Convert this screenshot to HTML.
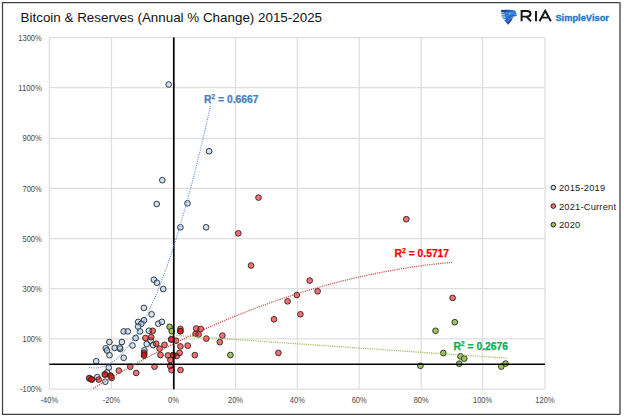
<!DOCTYPE html>
<html><head><meta charset="utf-8"><style>
html,body{margin:0;padding:0;background:#fff;}
body{width:624px;height:420px;overflow:hidden;position:relative;font-family:"Liberation Sans",sans-serif;}
svg{position:absolute;left:0;top:0;}
</style></head><body>
<svg width="624" height="420" viewBox="0 0 624 420">
<rect x="0" y="0" width="624" height="420" fill="#fff"/>
<line x1="620" y1="2" x2="620" y2="414.8" stroke="#757575" stroke-width="1.8"/>
<path d="M619.2,2.5 H2.5 V414.3 H620" fill="none" stroke="#404040" stroke-width="1.25"/>
<text x="20.6" y="22" font-size="13.4" fill="#111">Bitcoin &amp; Reserves (Annual % Change) 2015-2025</text>
<g stroke="#dedede" stroke-width="1.25">
<line x1="49.4" y1="37.5" x2="49.4" y2="389.2"/>
<line x1="111.5" y1="37.5" x2="111.5" y2="389.2"/>
<line x1="173.5" y1="37.5" x2="173.5" y2="389.2"/>
<line x1="235.5" y1="37.5" x2="235.5" y2="389.2"/>
<line x1="297.4" y1="37.5" x2="297.4" y2="389.2"/>
<line x1="359.2" y1="37.5" x2="359.2" y2="389.2"/>
<line x1="421.2" y1="37.5" x2="421.2" y2="389.2"/>
<line x1="482.6" y1="37.5" x2="482.6" y2="389.2"/>
<line x1="545.0" y1="37.5" x2="545.0" y2="389.2"/>
<line x1="49.5" y1="37.5" x2="545" y2="37.5"/>
<line x1="49.5" y1="87.6" x2="545" y2="87.6"/>
<line x1="49.5" y1="138.3" x2="545" y2="138.3"/>
<line x1="49.5" y1="188.4" x2="545" y2="188.4"/>
<line x1="49.5" y1="238.5" x2="545" y2="238.5"/>
<line x1="49.5" y1="288.7" x2="545" y2="288.7"/>
<line x1="49.5" y1="338.9" x2="545" y2="338.9"/>
<line x1="49.5" y1="389.1" x2="545" y2="389.1"/>
</g>
<g font-size="8.4" fill="#4a4a4a">
<text x="41.8" y="40.6" text-anchor="end" textLength="23.53" lengthAdjust="spacingAndGlyphs">1300%</text>
<text x="41.8" y="90.69999999999999" text-anchor="end" textLength="23.53" lengthAdjust="spacingAndGlyphs">1100%</text>
<text x="41.8" y="141.4" text-anchor="end" textLength="19.33" lengthAdjust="spacingAndGlyphs">900%</text>
<text x="41.8" y="191.5" text-anchor="end" textLength="19.33" lengthAdjust="spacingAndGlyphs">700%</text>
<text x="41.8" y="241.6" text-anchor="end" textLength="19.33" lengthAdjust="spacingAndGlyphs">500%</text>
<text x="41.8" y="291.8" text-anchor="end" textLength="19.33" lengthAdjust="spacingAndGlyphs">300%</text>
<text x="41.8" y="342.0" text-anchor="end" textLength="19.33" lengthAdjust="spacingAndGlyphs">100%</text>
<text x="41.8" y="392.20000000000005" text-anchor="end" textLength="21.85" lengthAdjust="spacingAndGlyphs">-100%</text>
<text x="49.4" y="403.2" text-anchor="middle" textLength="17.65" lengthAdjust="spacingAndGlyphs">-40%</text>
<text x="111.5" y="403.2" text-anchor="middle" textLength="17.65" lengthAdjust="spacingAndGlyphs">-20%</text>
<text x="173.5" y="403.2" text-anchor="middle" textLength="10.92" lengthAdjust="spacingAndGlyphs">0%</text>
<text x="235.5" y="403.2" text-anchor="middle" textLength="15.13" lengthAdjust="spacingAndGlyphs">20%</text>
<text x="297.4" y="403.2" text-anchor="middle" textLength="15.13" lengthAdjust="spacingAndGlyphs">40%</text>
<text x="359.2" y="403.2" text-anchor="middle" textLength="15.13" lengthAdjust="spacingAndGlyphs">60%</text>
<text x="421.2" y="403.2" text-anchor="middle" textLength="15.13" lengthAdjust="spacingAndGlyphs">80%</text>
<text x="482.6" y="403.2" text-anchor="middle" textLength="19.33" lengthAdjust="spacingAndGlyphs">100%</text>
<text x="545.0" y="403.2" text-anchor="middle" textLength="19.33" lengthAdjust="spacingAndGlyphs">120%</text>
</g>
<g stroke="#262626" stroke-width="0.9" fill="rgba(160,200,240,0.55)">
<circle cx="168.7" cy="84.5" r="2.85"/>
<circle cx="209.1" cy="151.2" r="2.85"/>
<circle cx="162.3" cy="180.2" r="2.85"/>
<circle cx="156.7" cy="204" r="2.85"/>
<circle cx="187.5" cy="203.3" r="2.85"/>
<circle cx="180.4" cy="227.3" r="2.85"/>
<circle cx="206.1" cy="227.3" r="2.85"/>
<circle cx="153.9" cy="279.8" r="2.85"/>
<circle cx="156.9" cy="282.7" r="2.85"/>
<circle cx="163.2" cy="289" r="2.85"/>
<circle cx="143.9" cy="307.9" r="2.85"/>
<circle cx="151.6" cy="314.3" r="2.85"/>
<circle cx="144" cy="320.3" r="2.85"/>
<circle cx="138.2" cy="321.9" r="2.85"/>
<circle cx="141.3" cy="323.8" r="2.85"/>
<circle cx="138.1" cy="326.6" r="2.85"/>
<circle cx="140" cy="331.4" r="2.85"/>
<circle cx="123.7" cy="331.4" r="2.85"/>
<circle cx="127.8" cy="331.4" r="2.85"/>
<circle cx="135.6" cy="338" r="2.85"/>
<circle cx="132.5" cy="345.5" r="2.85"/>
<circle cx="109.4" cy="342" r="2.85"/>
<circle cx="121.9" cy="342" r="2.85"/>
<circle cx="114.7" cy="347.9" r="2.85"/>
<circle cx="120.2" cy="349" r="2.85"/>
<circle cx="105.8" cy="348.3" r="2.85"/>
<circle cx="107" cy="350.5" r="2.85"/>
<circle cx="109.5" cy="355.2" r="2.85"/>
<circle cx="123.7" cy="357.8" r="2.85"/>
<circle cx="96.2" cy="361.2" r="2.85"/>
<circle cx="108.7" cy="367.6" r="2.85"/>
<circle cx="97.3" cy="377.1" r="2.85"/>
<circle cx="105.3" cy="381.7" r="2.85"/>
<circle cx="107" cy="372.5" r="2.85"/>
<circle cx="89.4" cy="378" r="2.85"/>
<circle cx="158.3" cy="323.7" r="2.85"/>
<circle cx="161.9" cy="321.9" r="2.85"/>
<circle cx="149" cy="330.7" r="2.85"/>
<circle cx="150.6" cy="340.5" r="2.85"/>
<circle cx="146.7" cy="344" r="2.85"/>
<circle cx="153.2" cy="345.1" r="2.85"/>
<circle cx="144.4" cy="350.3" r="2.85"/>
<circle cx="119.8" cy="347.6" r="2.85"/>
</g>
<g stroke="#262626" stroke-width="0.9" fill="rgba(245,0,0,0.57)">
<circle cx="258.5" cy="197.6" r="2.85"/>
<circle cx="238.3" cy="233.3" r="2.85"/>
<circle cx="251" cy="265.5" r="2.85"/>
<circle cx="406.3" cy="219.2" r="2.85"/>
<circle cx="309.7" cy="280.6" r="2.85"/>
<circle cx="317.6" cy="291.3" r="2.85"/>
<circle cx="296.8" cy="295" r="2.85"/>
<circle cx="287.6" cy="301.3" r="2.85"/>
<circle cx="300.4" cy="314.3" r="2.85"/>
<circle cx="274" cy="319.3" r="2.85"/>
<circle cx="278.4" cy="352.9" r="2.85"/>
<circle cx="452.6" cy="297.9" r="2.85"/>
<circle cx="152.7" cy="330.8" r="2.85"/>
<circle cx="145.4" cy="338" r="2.85"/>
<circle cx="151.2" cy="337.2" r="2.85"/>
<circle cx="156.2" cy="343.7" r="2.85"/>
<circle cx="159.6" cy="348.7" r="2.85"/>
<circle cx="164.5" cy="344.8" r="2.85"/>
<circle cx="144.2" cy="352.7" r="2.85"/>
<circle cx="144" cy="355.6" r="2.85"/>
<circle cx="160.5" cy="355" r="2.85"/>
<circle cx="167.9" cy="355.4" r="2.85"/>
<circle cx="173.2" cy="355" r="2.85"/>
<circle cx="176.6" cy="356" r="2.85"/>
<circle cx="171.3" cy="339.4" r="2.85"/>
<circle cx="176" cy="340.7" r="2.85"/>
<circle cx="180.4" cy="328.8" r="2.85"/>
<circle cx="180.4" cy="331.2" r="2.85"/>
<circle cx="180.4" cy="346.4" r="2.85"/>
<circle cx="187.7" cy="345.7" r="2.85"/>
<circle cx="179.6" cy="352.9" r="2.85"/>
<circle cx="194.8" cy="355.1" r="2.85"/>
<circle cx="196.2" cy="328.5" r="2.85"/>
<circle cx="200.7" cy="329" r="2.85"/>
<circle cx="195.6" cy="333.8" r="2.85"/>
<circle cx="198.6" cy="334.4" r="2.85"/>
<circle cx="206.3" cy="338.6" r="2.85"/>
<circle cx="222.4" cy="335.6" r="2.85"/>
<circle cx="219.8" cy="342.1" r="2.85"/>
<circle cx="170.4" cy="360.1" r="2.85"/>
<circle cx="170.2" cy="366" r="2.85"/>
<circle cx="171.6" cy="370.1" r="2.85"/>
<circle cx="180.5" cy="370" r="2.85"/>
<circle cx="130.2" cy="366.7" r="2.85"/>
<circle cx="154.5" cy="366.7" r="2.85"/>
<circle cx="136.2" cy="372.9" r="2.85"/>
<circle cx="118.8" cy="370.6" r="2.85"/>
<circle cx="104.7" cy="374.3" r="2.85"/>
<circle cx="110.4" cy="375.5" r="2.85"/>
<circle cx="111.6" cy="377.9" r="2.85"/>
<circle cx="98.7" cy="379.6" r="2.85"/>
<circle cx="89.3" cy="378.5" r="2.85"/>
<circle cx="91.9" cy="379.6" r="2.85"/>
<circle cx="180.4" cy="331.2" r="2.85"/>
<circle cx="91.3" cy="379.3" r="2.85"/>
<circle cx="105.2" cy="374.6" r="2.85"/>
<circle cx="110.8" cy="376.3" r="2.85"/>
<circle cx="144.2" cy="354.5" r="2.85"/>
<circle cx="171.3" cy="339.4" r="2.85"/>
<circle cx="173.3" cy="355.3" r="2.85"/>
</g>
<g stroke="#262626" stroke-width="0.9" fill="#9bc859">
<circle cx="169.6" cy="326.8" r="2.85"/>
<circle cx="171.7" cy="331.1" r="2.85"/>
<circle cx="230.4" cy="355" r="2.85"/>
<circle cx="454.8" cy="322.2" r="2.85"/>
<circle cx="435.5" cy="330.8" r="2.85"/>
<circle cx="443.3" cy="353" r="2.85"/>
<circle cx="460.5" cy="356.3" r="2.85"/>
<circle cx="464.2" cy="358.6" r="2.85"/>
<circle cx="459.2" cy="363.7" r="2.85"/>
<circle cx="420.4" cy="365.8" r="2.85"/>
<circle cx="501.3" cy="366.6" r="2.85"/>
<circle cx="505.5" cy="363.6" r="2.85"/>
</g>
<line x1="49.5" y1="364.2" x2="545" y2="364.2" stroke="#000" stroke-width="1.65"/>
<line x1="173.8" y1="37.5" x2="173.8" y2="389.2" stroke="#000" stroke-width="1.7"/>
<path d="M89.0,367.3 L91.1,367.7 L93.1,367.9 L95.2,368.0 L97.2,367.9 L99.3,367.6 L101.4,367.2 L103.4,366.6 L105.5,365.8 L107.5,364.9 L109.6,363.8 L111.7,362.5 L113.7,361.1 L115.8,359.5 L117.8,357.8 L119.9,355.8 L121.9,353.7 L124.0,351.5 L126.1,349.0 L128.1,346.4 L130.2,343.7 L132.2,340.7 L134.3,337.6 L136.4,334.4 L138.4,330.9 L140.5,327.3 L142.5,323.6 L144.6,319.6 L146.7,315.5 L148.7,311.3 L150.8,306.8 L152.8,302.2 L154.9,297.5 L157.0,292.5 L159.0,287.4 L161.1,282.2 L163.1,276.7 L165.2,271.1 L167.3,265.4 L169.3,259.4 L171.4,253.3 L173.4,247.1 L175.5,240.6 L177.6,234.0 L179.6,227.3 L181.7,220.3 L183.7,213.2 L185.8,206.0 L187.8,198.5 L189.9,190.9 L192.0,183.1 L194.0,175.2 L196.1,167.1 L198.1,158.8 L200.2,150.4 L202.3,141.8 L204.3,133.0 L206.4,124.1 L208.4,115.0 L210.5,105.7" fill="none" stroke="#5b8dd3" stroke-width="1.15" stroke-dasharray="1 1.25"/>
<path d="M93.3,388.5 L97.9,385.7 L102.4,383.0 L107.0,380.2 L111.5,377.6 L116.1,374.9 L120.6,372.3 L125.2,369.7 L129.7,367.1 L134.3,364.6 L138.8,362.1 L143.4,359.6 L147.9,357.1 L152.5,354.7 L157.0,352.3 L161.6,350.0 L166.2,347.7 L170.7,345.4 L175.3,343.1 L179.8,340.9 L184.4,338.7 L188.9,336.5 L193.5,334.4 L198.0,332.2 L202.6,330.2 L207.1,328.1 L211.7,326.1 L216.2,324.1 L220.8,322.1 L225.3,320.2 L229.9,318.3 L234.4,316.4 L239.0,314.6 L243.6,312.8 L248.1,311.0 L252.7,309.3 L257.2,307.5 L261.8,305.9 L266.3,304.2 L270.9,302.6 L275.4,301.0 L280.0,299.4 L284.5,297.9 L289.1,296.4 L293.6,294.9 L298.2,293.4 L302.7,292.0 L307.3,290.6 L311.9,289.3 L316.4,288.0 L321.0,286.7 L325.5,285.4 L330.1,284.2 L334.6,283.0 L339.2,281.8 L343.7,280.6 L348.3,279.5 L352.8,278.4 L357.4,277.4 L361.9,276.4 L366.5,275.4 L371.0,274.4 L375.6,273.5 L380.1,272.6 L384.7,271.7 L389.3,270.9 L393.8,270.1 L398.4,269.3 L402.9,268.5 L407.5,267.8 L412.0,267.1 L416.6,266.5 L421.1,265.8 L425.7,265.2 L430.2,264.7 L434.8,264.1 L439.3,263.6 L443.9,263.1 L448.4,262.7 L453.0,262.3" fill="none" stroke="#c0504d" stroke-width="1.3" stroke-dasharray="1.1 1.1"/>
<line x1="169.8" y1="335" x2="507" y2="358.2" stroke="#9bbb59" stroke-width="1.3" stroke-dasharray="1.1 1.1"/>
<g font-weight="bold" font-size="10.3">
<text x="203.9" y="102.7" fill="#4a7ebb" stroke="#4a7ebb" stroke-width="0.25">R<tspan font-size="7" dy="-3.9">2</tspan><tspan dy="3.9"> = 0.6667</tspan></text>
<text x="394.5" y="257" fill="#ff0000" stroke="#ff0000" stroke-width="0.25">R<tspan font-size="7" dy="-3.9">2</tspan><tspan dy="3.9"> = 0.5717</tspan></text>
<text x="453.4" y="350" fill="#00b050" stroke="#00b050" stroke-width="0.25">R<tspan font-size="7" dy="-3.9">2</tspan><tspan dy="3.9"> = 0.2676</tspan></text>
</g>
<g stroke="#1f1f1f" stroke-width="1">
<circle cx="553.3" cy="187.6" r="2.3" fill="#c6dcf2"/>
<circle cx="553.3" cy="206.1" r="2.3" fill="#ff7070"/>
<circle cx="553.3" cy="224.7" r="2.3" fill="#9bc859"/>
</g>
<g font-size="9.3" fill="#1a1a1a" letter-spacing="0.2">
<text x="559" y="191">2015-2019</text>
<text x="559" y="209.5">2021-Current</text>
<text x="559" y="228.1">2020</text>
</g>
<!-- logo -->
<g id="logo">
<defs><linearGradient id="lg" x1="0" y1="0" x2="0.6" y2="1">
<stop offset="0" stop-color="#15257a"/><stop offset="0.45" stop-color="#2f80dc"/><stop offset="1" stop-color="#1b3496"/></linearGradient></defs>
<path d="M501,10.1 Q508,9.1 515.3,10.5 L515.8,12.6 L517,15.3 L513.4,16.9 Q511.8,21.2 508.1,24.7 Q505.5,21.8 502.8,18.6 L501.8,17 Q501.3,13.5 501,10.1 Z" fill="url(#lg)"/>
<g stroke="#fff" stroke-width="0.7" fill="none">
<path d="M500.8,12.7 H504.3 M501,14.4 H504.8 M501.3,16.1 H505.2 M501.8,17.8 H505.4 M502.8,19.5 H505.8"/>
</g>
<path d="M504.5,13.3 Q510.5,11.8 516.4,14.8" stroke="#6ab8f4" stroke-width="0.7" fill="none"/>
<circle cx="509.6" cy="13.9" r="0.65" fill="#a8d8ff"/>
<path d="M507.3,21.5 Q509.8,17.6 514,16.4" stroke="#8cc8f8" stroke-width="0.6" fill="none"/>
<g fill="none" stroke="#161616" stroke-width="1.95">
<path d="M521.6,21.3 V11 H527 Q530.5,11 530.5,13.8 Q530.5,16.6 527,16.6 H521.6 M526.5,16.6 L531,21.3"/>
<path d="M536,11 V21.3"/>
<path d="M539.5,21.3 L545.2,10.8 L550.9,21.3 M542.5,17.6 H548.5"/>
</g>
<text x="555.4" y="21" font-size="9.3" font-weight="bold" fill="#1b76ca" stroke="#1b76ca" stroke-width="0.3">SimpleVisor</text>
</g>
</svg>
</body></html>
